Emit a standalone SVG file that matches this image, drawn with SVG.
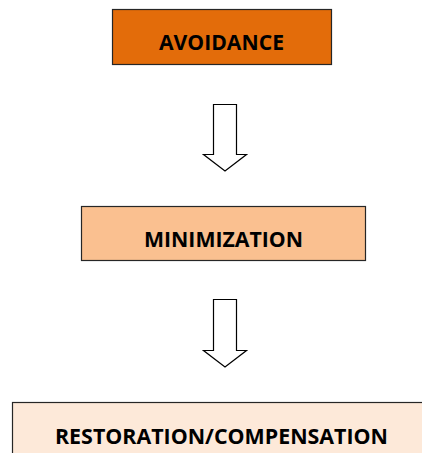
<svg xmlns="http://www.w3.org/2000/svg" width="422" height="453" viewBox="0 0 422 453">
<style>
.box{stroke:#262626;stroke-width:1.2}
.lbl{font-family:"Open Sans","Liberation Sans",Arial,sans-serif;font-weight:bold;font-size:20.5px;fill:#000;text-anchor:middle}
.arr{fill:#fff;stroke:#000;stroke-width:1.2;stroke-linejoin:miter}
</style>
<rect width="422" height="453" fill="#fff"/>
<g id="avoidance">
<rect class="box" x="112.5" y="9.5" width="219" height="55" fill="#E36C0A"/>
<text class="lbl" x="221.5" y="50" textLength="125" lengthAdjust="spacingAndGlyphs">AVOIDANCE</text>
</g>
<g id="minimization">
<rect class="box" x="81.5" y="206.5" width="284" height="54" fill="#FAC090"/>
<text class="lbl" x="223.5" y="247" textLength="159" lengthAdjust="spacingAndGlyphs">MINIMIZATION</text>
</g>
<g id="restoration">
<rect class="box" x="12.5" y="402.5" width="420" height="60" fill="#FDE9D9"/>
<text class="lbl" x="221.5" y="444" textLength="333" lengthAdjust="spacingAndGlyphs">RESTORATION/COMPENSATION</text>
</g>
<g id="connectors">
<path class="arr" d="M213.5 104.5 H236.5 V154.5 H246.5 L225 171 L203.5 154.5 H213.5 Z"/>
<path class="arr" d="M213.5 299.5 H236.5 V350.5 H246.5 L225 367 L203.5 350.5 H213.5 Z"/>
</g>
</svg>
